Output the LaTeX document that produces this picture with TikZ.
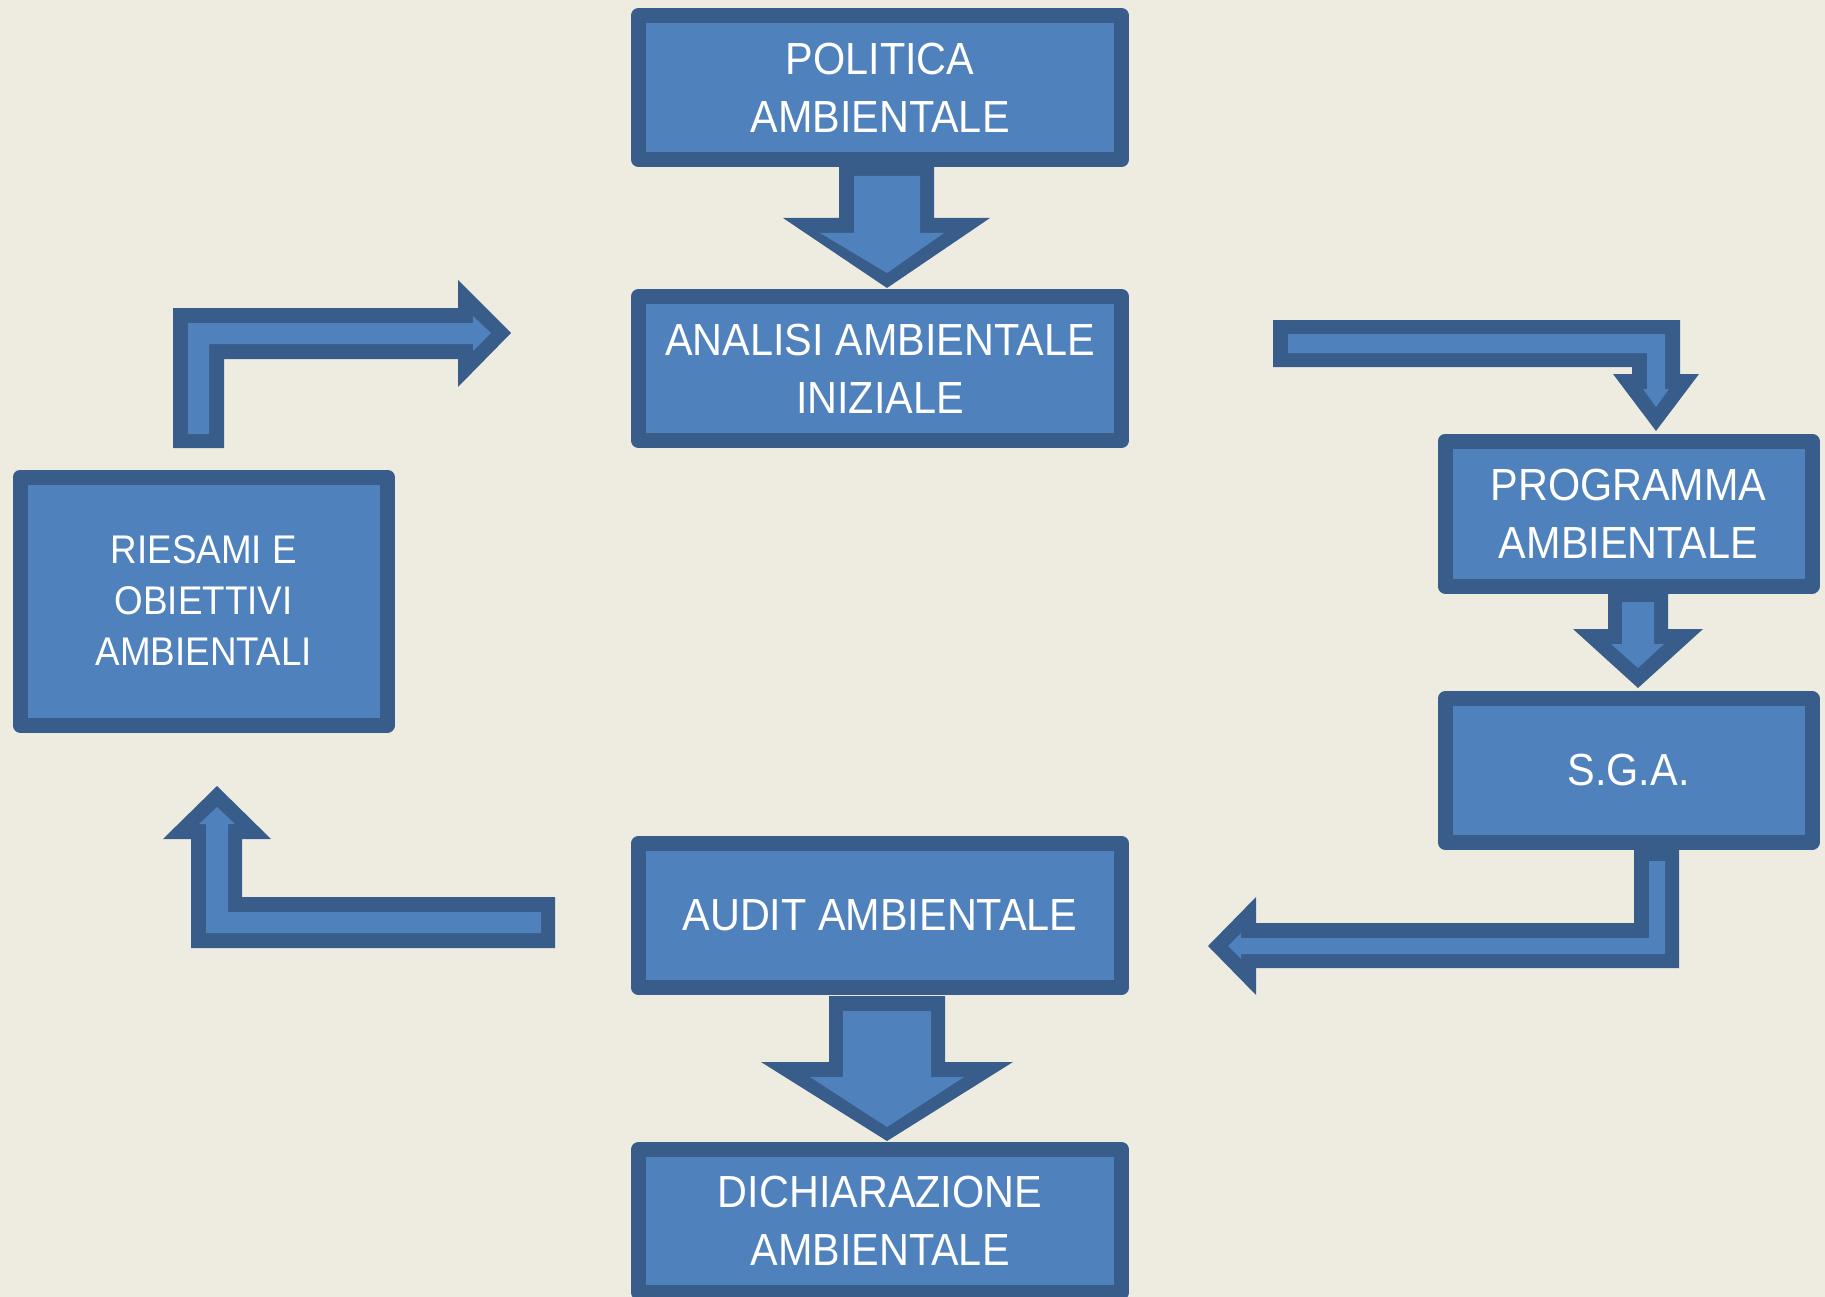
\documentclass[tikz,border=0pt]{standalone}
\usepackage{fontspec}
\setmainfont{Liberation Sans}[FakeStretch=0.92]
\definecolor{bgtan}{HTML}{EEECE1}
\definecolor{bfill}{HTML}{4F81BD}
\definecolor{bdark}{HTML}{385D8A}
\newcommand\bxfont{\fontsize{45}{58}\selectfont}
\newcommand\bxsmfont{\fontsize{40}{51}\selectfont}
\tikzset{
  box/.style={draw=bdark, fill=bfill, line width=15pt, line join=round,
    inner sep=0pt, text=white, align=center, font=\bxfont},
  arrout/.style={fill=bdark},
  arrin/.style={fill=bfill},
}
\begin{document}
\begin{tikzpicture}[x=1pt,y=-1pt]
\fill[bgtan] (0,0) rectangle (1825,1297);
\useasboundingbox (0,0) rectangle (1825,1297);

% boxes
\node[box, minimum width=483pt, minimum height=144pt] (pol) at (880,87.5) {POLITICA\\AMBIENTALE};
\node[box, minimum width=483pt, minimum height=144pt] (ana) at (880,368.5) {ANALISI AMBIENTALE\\INIZIALE};
\node[box, minimum width=367.5pt, minimum height=248pt, font=\bxsmfont] (ries) at (203.75,601) {RIESAMI E\\OBIETTIVI\\AMBIENTALI};
\node[box, minimum width=367pt, minimum height=145pt] (prog) at (1628.5,513.5) {PROGRAMMA\\AMBIENTALE};
\node[box, minimum width=367pt, minimum height=143.5pt] (sga) at (1628.5,770.5) {S.G.A.};
\node[box, minimum width=483pt, minimum height=144.5pt] (aud) at (880,915.5) {AUDIT AMBIENTALE};
\node[box, minimum width=483pt, minimum height=143pt] (dich) at (880,1221) {DICHIARAZIONE\\AMBIENTALE};

% arrow POLITICA -> ANALISI
\fill[arrout] (839,166) -- (934,166) -- (934,218) -- (990,218) -- (887,288) -- (783,218) -- (839,218) -- cycle;
\fill[arrin] (854,176) -- (920,176) -- (920,233) -- (944,233) -- (887,273) -- (820,233) -- (854,233) -- cycle;

% bent arrow ANALISI -> PROGRAMMA
\fill[arrout] (1273,320) -- (1680,320) -- (1680,374) -- (1699,374) -- (1656,431) -- (1613,374) -- (1632,374) -- (1632,367) -- (1273,367) -- cycle;
\fill[arrin] (1288,334) -- (1665,334) -- (1665,389) -- (1669,389) -- (1656,407) -- (1643,389) -- (1647,389) -- (1647,353) -- (1288,353) -- cycle;

% arrow PROGRAMMA -> SGA
\fill[arrout] (1608,592) -- (1668,592) -- (1668,629) -- (1703,629) -- (1638,688) -- (1573,629) -- (1608,629) -- cycle;
\fill[arrin] (1622,602) -- (1654,602) -- (1654,644) -- (1664,644) -- (1638,668) -- (1611,644) -- (1622,644) -- cycle;

% bent arrow SGA -> AUDIT
\fill[arrout] (1634,849) -- (1679,849) -- (1679,968) -- (1256,968) -- (1256,995) -- (1208,946) -- (1256,897) -- (1256,923) -- (1634,923) -- cycle;
\fill[arrin] (1649,861) -- (1665,861) -- (1665,954) -- (1241,954) -- (1241,959) -- (1228,946) -- (1241,933) -- (1241,938) -- (1649,938) -- cycle;

% arrow AUDIT -> DICHIARAZIONE
\fill[arrout] (829,996) -- (945,996) -- (945,1062) -- (1013,1062) -- (887,1141) -- (761,1062) -- (829,1062) -- cycle;
\fill[arrin] (843,1011) -- (931,1011) -- (931,1077) -- (964,1077) -- (887,1127) -- (810,1077) -- (843,1077) -- cycle;

% bent arrow AUDIT -> RIESAMI
\fill[arrout] (555,897) -- (555,948) -- (191,948) -- (191,839) -- (163,839) -- (217,786) -- (271,839) -- (242,839) -- (242,897) -- cycle;
\fill[arrin] (541,912) -- (541,933) -- (206,933) -- (206,824) -- (199,824) -- (217,807) -- (235,824) -- (228,824) -- (228,912) -- cycle;

% bent arrow RIESAMI -> ANALISI
\fill[arrout] (173,448) -- (173,308) -- (458,308) -- (458,280) -- (511,333) -- (458,387) -- (458,359) -- (224,359) -- (224,448) -- cycle;
\fill[arrin] (188,434) -- (188,323) -- (473,323) -- (473,316) -- (491,333) -- (473,351) -- (473,344) -- (209,344) -- (209,434) -- cycle;
\end{tikzpicture}
\end{document}
